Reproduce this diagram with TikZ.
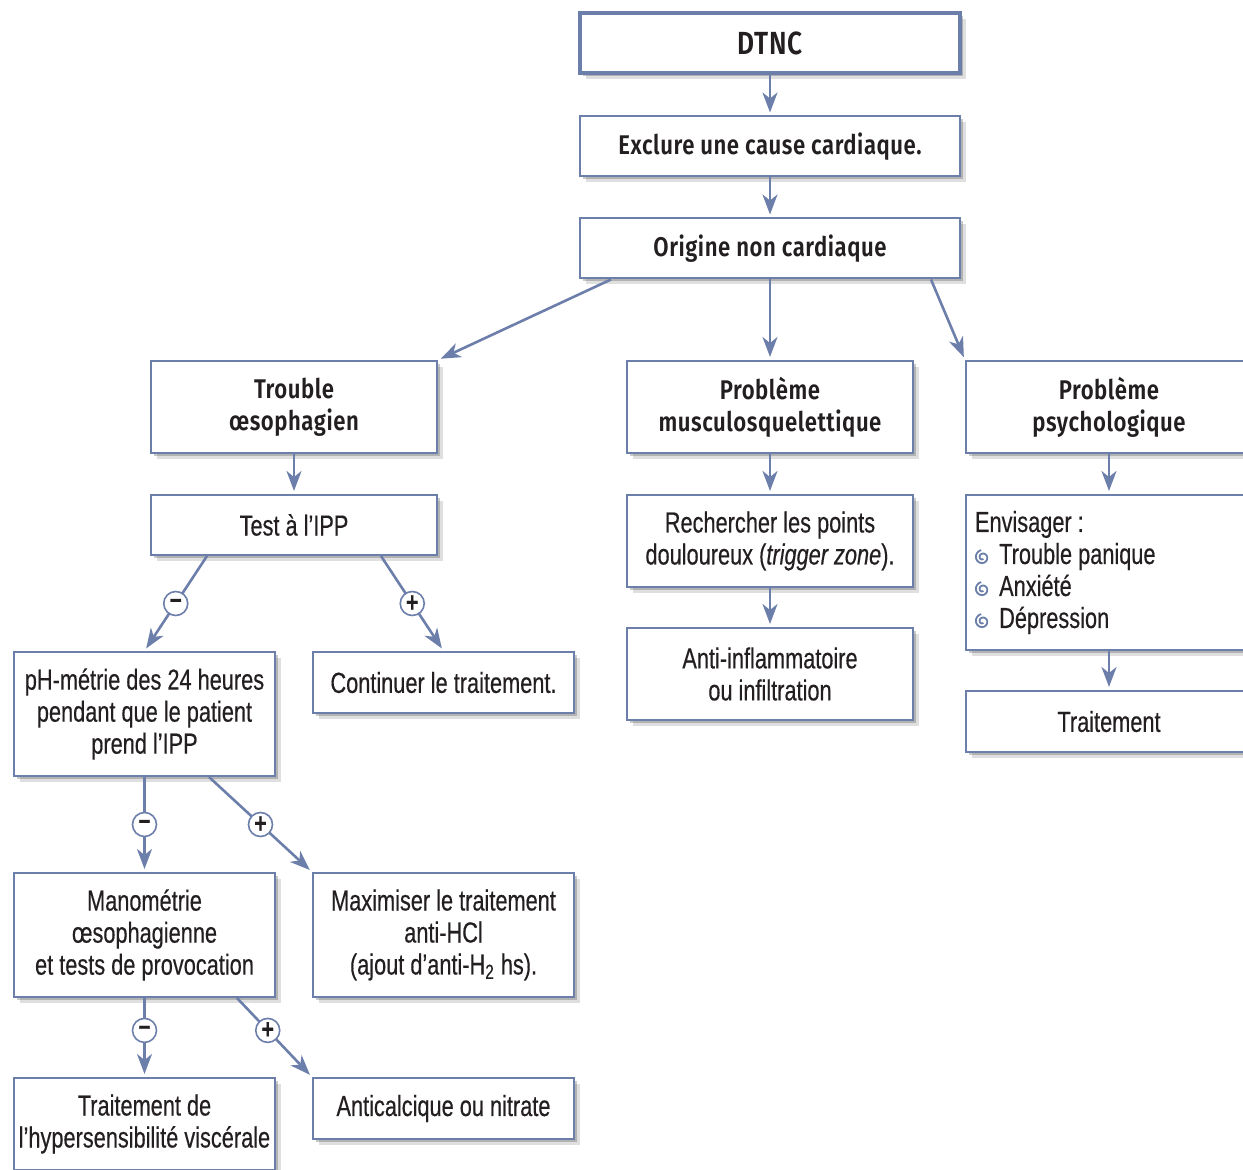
\documentclass[tikz,border=0pt]{standalone}
\usepackage{fontspec}
\setmainfont{Liberation Sans}[FakeStretch=0.75,FakeBold=0.4]
\newfontfamily\headfont{Fira Sans}[FakeStretch=0.82,LetterSpace=2,BoldFont={Fira Sans SemiBold}]
\usetikzlibrary{arrows.meta,shadows}
\definecolor{linkblue}{RGB}{108,126,170}
\definecolor{inktext}{RGB}{35,31,32}
\newcommand{\curlbullet}{\tikz[x=1pt,y=1pt,baseline=-3.3pt]\draw[linkblue,line width=0.9pt]
  plot[domain=60:620,samples=40,smooth,variable=\t] ({-\t}:{0.5+3.2*\t/620});}
\tikzset{
  box/.style={draw=linkblue, line width=1pt, fill=white, text=inktext, align=center,
    font=\fontsize{14.5}{16}\selectfont, inner sep=2pt,
    drop shadow={shadow xshift=3pt,shadow yshift=-3pt,opacity=0.18,fill=black!70},
    drop shadow={shadow xshift=1.5pt,shadow yshift=-1.5pt,opacity=0.3,fill=black!70}},
  headbox/.style={box, font=\headfont\bfseries\fontsize{13.5}{16}\selectfont},
  topsize/.style={minimum width=190pt, minimum height=30pt},
  midsize/.style={minimum width=143pt, minimum height=46pt},
  lowsize/.style={minimum width=143pt, minimum height=30pt},
  leftsize/.style={minimum width=130.5pt, minimum height=62pt},
  flatsize/.style={minimum width=130.5pt, minimum height=30.5pt},
  link/.style={draw=linkblue, line width=1.3pt, shorten >=1.5pt,
    -{Stealth[length=10pt,width=7.5pt,inset=3pt]}},
  signdot/.style={circle, draw=linkblue, line width=0.8pt, fill=white, text=inktext,
    minimum size=12pt, inner sep=0pt, font=\bfseries\fontsize{14}{14}\selectfont}
}
\begin{document}
\begin{tikzpicture}[x=0.5pt,y=-0.5pt]
      \useasboundingbox (0,0) rectangle (1243,1170);
      \clip (0,0) rectangle (1243,1170);
      \draw
        (770,43) node[headbox,topsize,line width=1.6pt,font=\headfont\bfseries\fontsize{16}{16}\selectfont] (dtnc){DTNC}
        (770,146.5) node[headbox,topsize] (excl){Exclure une cause cardiaque.}
        (770,248.5) node[headbox,topsize] (orig){Origine non cardiaque}
        (294,407) node[headbox,midsize] (oeso){Trouble\\œsophagien}
        (770,407) node[headbox,midsize] (musc){Problème\\musculosquelettique}
        (1109,407) node[headbox,midsize] (psy){Problème\\psychologique}
        (294,525) node[box,lowsize] (ipp){Test à l’IPP}
        (770,541) node[box,midsize] (trig){Rechercher les points\\douloureux (\textit{trigger zone}).}
        (1109,572.5) node[box,minimum width=143pt,minimum height=77.5pt,align=flush left,
          text width=134pt,inner xsep=4.5pt] (envis){Envisager :\\
          \curlbullet\hspace{5.5pt}Trouble panique\\ \curlbullet\hspace{5.5pt}Anxiété\\ \curlbullet\hspace{5.5pt}Dépression}
        (144.5,714) node[box,leftsize] (phm){pH-métrie des 24 heures\\pendant que le patient\\prend l’IPP}
        (443.5,682.5) node[box,flatsize] (cont){Continuer le traitement.}
        (770,674) node[box,midsize] (anti){Anti-inflammatoire\\ou infiltration}
        (1109,721.5) node[box,minimum width=143pt,minimum height=30.5pt] (trpsy){Traitement}
        (144.5,935) node[box,leftsize] (mano){Manométrie\\œsophagienne\\et tests de provocation}
        (443.5,935) node[box,leftsize] (maxi){Maximiser le traitement\\anti-HCl\\(ajout d’anti-H\textsubscript{2} hs).}
        (144.5,1124) node[box,minimum width=130.5pt,minimum height=46pt] (hyper){Traitement de\\l’hypersensibilité viscérale}
        (443.5,1108.5) node[box,flatsize] (calc){Anticalcique ou nitrate};
      \begin{scope}[link]
        \draw (dtnc) to (excl);
        \draw (excl) to (orig);
        \draw ([xshift=16pt]orig.south west) to (oeso.north east);
        \draw (orig) to (musc);
        \draw ([xshift=-15pt]orig.south east) to (psy.north west);
        \draw (oeso) to (ipp);
        \draw ([xshift=28.5pt]ipp.south west) to node[signdot]{–} (phm.north);
        \draw ([xshift=-28.5pt]ipp.south east) to node[signdot]{+} (cont.north);
        \draw (phm) to node[signdot]{–} (mano);
        \draw ([xshift=-33.5pt]phm.south east) to node[signdot]{+} (maxi.north west);
        \draw (mano) to node[signdot,pos=0.41]{–} (hyper);
        \draw ([xshift=-19.5pt]mano.south east) to node[signdot,pos=0.41]{+} (calc.north west);
        \draw (musc) to (trig);
        \draw (trig) to (anti);
        \draw (psy) to (envis);
        \draw (envis) to (trpsy);
      \end{scope}
    \end{tikzpicture}
\end{document}
